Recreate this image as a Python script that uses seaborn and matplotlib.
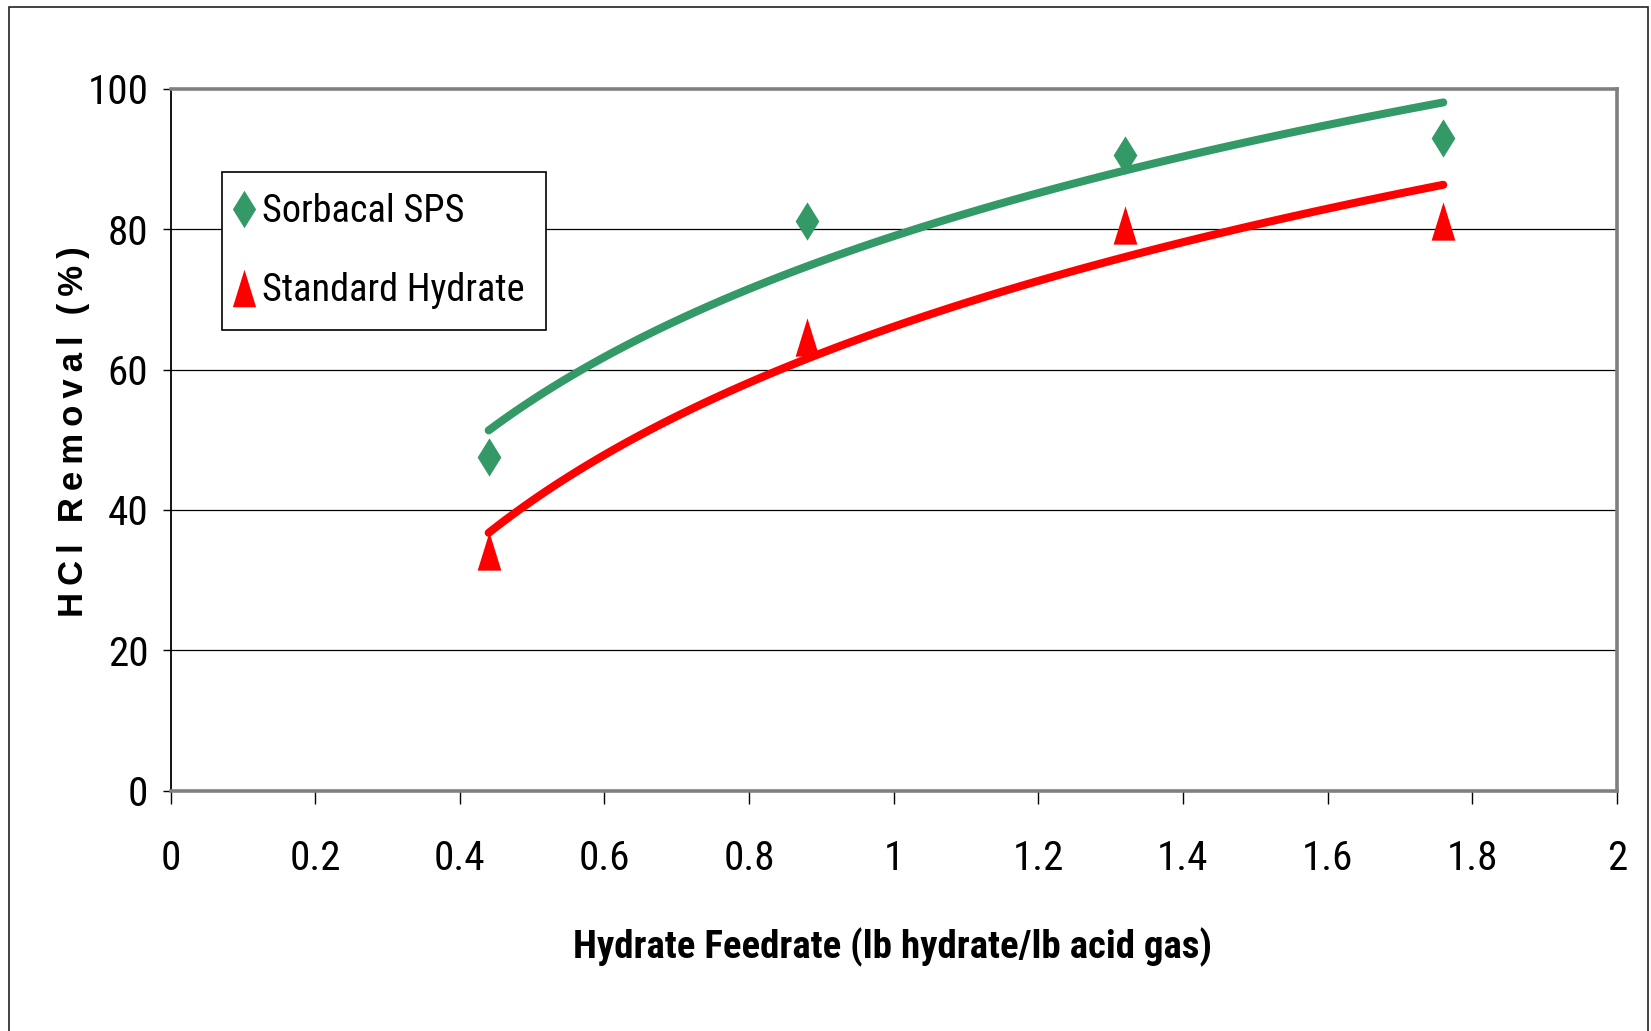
import os
import numpy as np
import pandas as pd
import matplotlib
matplotlib.use("Agg")
import matplotlib.pyplot as plt
from matplotlib import font_manager
from matplotlib.font_manager import FontProperties
from matplotlib.path import Path
from matplotlib.lines import Line2D
from matplotlib.patches import Rectangle
import seaborn as sns

# ---- data ----
feedrate = [0.44, 0.88, 1.32, 1.76]
sorbacal = [47.6, 81.2, 90.6, 93.0]
standard = [34.2, 64.7, 80.6, 81.1]
series_names = ["Sorbacal SPS", "Standard Hydrate"]
x_ticks = [0, 0.2, 0.4, 0.6, 0.8, 1, 1.2, 1.4, 1.6, 1.8, 2]
x_tick_labels = ["0", "0.2", "0.4", "0.6", "0.8", "1", "1.2", "1.4", "1.6", "1.8", "2"]
y_ticks = [0, 20, 40, 60, 80, 100]
x_label = "Hydrate Feedrate (lb hydrate/lb acid gas)"
y_label = "HCl Removal (%)"

GREEN = "#339966"
RED = "#FF0000"

sns.set_theme(style="white")
plt.rcParams["font.family"] = ["DejaVu Sans"]
for k in ["text.color", "axes.labelcolor", "xtick.color", "ytick.color"]:
    plt.rcParams[k] = "black"

# ---- font lookup by file name ----
all_files = set(f.fname for f in font_manager.fontManager.ttflist)
try:
    all_files |= set(font_manager.findSystemFonts())
except Exception:
    pass


def find_font(candidates):
    low = {os.path.basename(p).lower(): p for p in all_files}
    for c in candidates:
        for b, p in low.items():
            if b == c:
                return p
    return None


narrow_reg = find_font(["liberationsansnarrow-regular.ttf", "robotocondensed-regular.ttf",
                        "opensans-condensedregular.ttf", "dejavusanscondensed.ttf"])
narrow_bold = find_font(["liberationsansnarrow-bold.ttf", "robotocondensed-bold.ttf",
                         "opensans-condensedbold.ttf", "dejavusanscondensed-bold.ttf"])
arial_bold = find_font(["liberationsans-bold.ttf", "arimo-bold.ttf", "dejavusans-bold.ttf"])


def fp(path, size, weight="normal", stretch="normal"):
    if path:
        return FontProperties(fname=path, size=size)
    return FontProperties(family="DejaVu Sans", size=size, weight=weight, stretch=stretch)


tick_fp = fp(narrow_reg, 29.5)
xlabel_fp = fp(narrow_bold, 28, weight="bold")
ylabel_fp = fp(arial_bold, 25, weight="bold")
legend_fp = fp(narrow_reg, 27.5)

fig = plt.figure(figsize=(16.51, 10.31), dpi=100)
W, H = 1651, 1031
ax_left, ax_right, ax_top, ax_bottom = 170.5, 1616.8, 88.7, 790.7
ax = fig.add_axes([ax_left / W, 1 - ax_bottom / H, (ax_right - ax_left) / W, (ax_bottom - ax_top) / H])

# outer frame
fig.patches.append(Rectangle((8.5 / W, -0.01), (1648 - 8.5) / W, 1.01 - 6.5 / H,
                             transform=fig.transFigure, fill=False, edgecolor="#222222", linewidth=1.2))

# trend lines (logarithmic fit, as in spreadsheet trendline)
xs = np.linspace(min(feedrate), max(feedrate), 120)
trend_rows = []
for name, vals in zip(series_names, [sorbacal, standard]):
    b, a = np.polyfit(np.log(feedrate), vals, 1)
    for xv in xs:
        trend_rows.append({"x": xv, "y": a + b * np.log(xv), "series": name})
trend_df = pd.DataFrame(trend_rows)

pts_df = pd.DataFrame({
    "x": feedrate * 2,
    "y": sorbacal + standard,
    "series": [series_names[0]] * 4 + [series_names[1]] * 4,
})

sns.lineplot(data=trend_df, x="x", y="y", hue="series", palette=[GREEN, RED],
             linewidth=5.8, legend=False, ax=ax, solid_capstyle="round", zorder=3)

diamond = Path([(0, 1), (0.62, 0), (0, -1), (-0.62, 0), (0, 1)],
               [Path.MOVETO, Path.LINETO, Path.LINETO, Path.LINETO, Path.CLOSEPOLY])
triangle = Path([(0, 1), (0.62, -1), (-0.62, -1), (0, 1)],
                [Path.MOVETO, Path.LINETO, Path.LINETO, Path.CLOSEPOLY])

sns.scatterplot(data=pts_df[pts_df.series == series_names[0]], x="x", y="y", marker=diamond,
                s=760, color=GREEN, linewidth=0, ax=ax, zorder=4, legend=False)
sns.scatterplot(data=pts_df[pts_df.series == series_names[1]], x="x", y="y", marker=triangle,
                s=760, color=RED, linewidth=0, ax=ax, zorder=4, legend=False)

ax.set_xlim(0, 2)
ax.set_ylim(0, 100)
ax.set_xticks(x_ticks)
ax.set_xticklabels(x_tick_labels, fontproperties=tick_fp)
ax.set_yticks(y_ticks)
ax.set_yticklabels([str(v) for v in y_ticks], fontproperties=tick_fp)

for yv in [20, 40, 60, 80]:
    ax.axhline(yv, color="black", linewidth=0.9, zorder=1)

for side in ["top", "right", "bottom"]:
    ax.spines[side].set_color("#808080")
    ax.spines[side].set_linewidth(2.6)
ax.spines["left"].set_color("black")
ax.spines["left"].set_linewidth(1.3)
ax.axhline(0, color="#555555", linewidth=1.0, zorder=2)

ax.tick_params(axis="x", direction="out", length=9.5, width=1, color="black", pad=25, bottom=True)
ax.tick_params(axis="y", direction="out", length=6, width=1, color="black", pad=10, left=True)

ax.set_xlabel(x_label, fontproperties=xlabel_fp)
ax.xaxis.set_label_coords(0.4989, -0.2226)
ax.xaxis.label.set_va("center")

spaced = "\u2009".join(list(y_label)).replace("\u2009 \u2009", "\u2009\u2009\u2009")
ax.set_ylabel(spaced, fontproperties=ylabel_fp)
ax.yaxis.set_label_coords(-0.0674, 0.512)
ax.yaxis.label.set_va("center")

handles = [
    Line2D([], [], linestyle="none", marker=diamond, markersize=27, color=GREEN, markeredgewidth=0),
    Line2D([], [], linestyle="none", marker=triangle, markersize=27, color=RED, markeredgewidth=0),
]
leg = ax.legend(handles, series_names, loc="upper left", bbox_to_anchor=(0.0354, 0.8818),
                borderaxespad=0, prop=legend_fp, frameon=True, fancybox=False, framealpha=1,
                edgecolor="black", handlelength=0.05, handletextpad=0.45, labelspacing=1.1,
                borderpad=0.56)
leg.get_frame().set_linewidth(1.2)
leg.set_zorder(5)

fig.savefig("out.png", dpi=100, facecolor="white")
